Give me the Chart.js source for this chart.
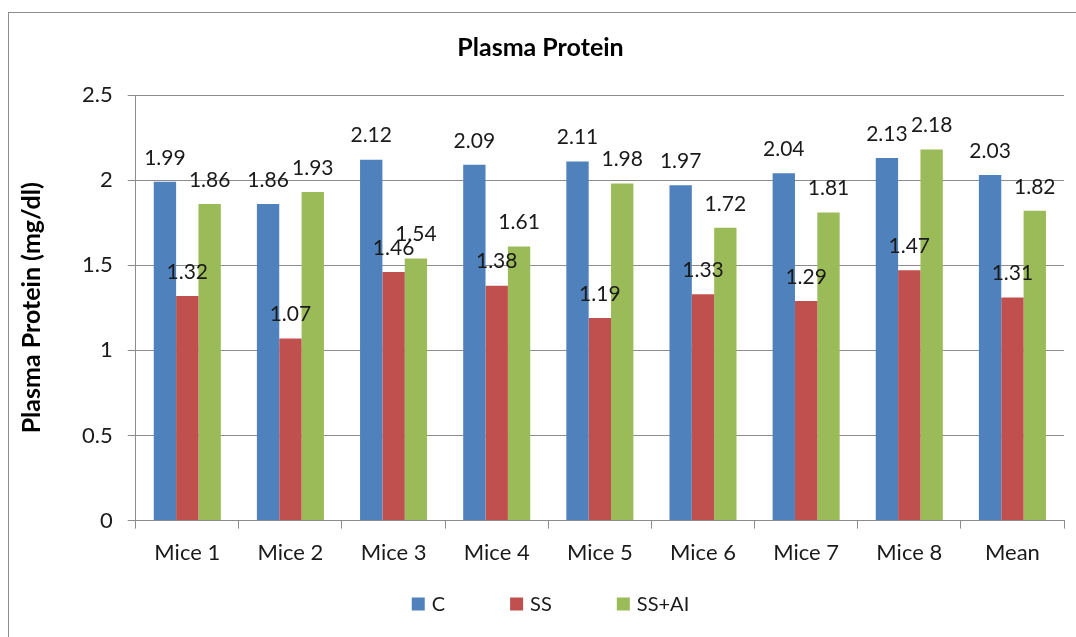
<!DOCTYPE html>
<html>
<head>
<meta charset="utf-8">
<script src="https://cdn.jsdelivr.net/npm/chart.js@4.4.1/dist/chart.umd.min.js"></script>
<style>
  body { margin: 0; background: #fff; overflow: hidden; width: 1076px; height: 637px; }
  #box { position: absolute; left: 8px; top: 12px; width: 1080px; height: 640px; border: 1px solid #8c8c8c; }
  #wrap { position: absolute; left: 0; top: 0; width: 1067px; height: 624px; }
</style>
</head>
<body>
<div id="box"><div id="wrap"><canvas id="myChart"></canvas></div></div>
<script>
const categories = ["Mice 1", "Mice 2", "Mice 3", "Mice 4", "Mice 5", "Mice 6", "Mice 7", "Mice 8", "Mean"];
const cValues = [1.99, 1.86, 2.12, 2.09, 2.11, 1.97, 2.04, 2.13, 2.03];
const ssValues = [1.32, 1.07, 1.46, 1.38, 1.19, 1.33, 1.29, 1.47, 1.31];
const ssaiValues = [1.86, 1.93, 1.54, 1.61, 1.98, 1.72, 1.81, 2.18, 1.82];
const yTicks = [0, 0.5, 1, 1.5, 2, 2.5];

const fontName = "Lato, 'Open Sans', sans-serif";

// value labels above each bar, like the excel data labels
const barLabels = {
  id: "barLabels",
  afterDatasetsDraw(chart) {
    const ctx = chart.ctx;
    ctx.save();
    ctx.font = "21px " + fontName;
    ctx.fillStyle = "#1a1a1a";
    ctx.textAlign = "center";
    ctx.textBaseline = "middle";
    chart.data.datasets.forEach((ds, i) => {
      chart.getDatasetMeta(i).data.forEach((bar, j) => {
        ctx.fillText(ds.data[j].toFixed(2), bar.x, bar.y - 24);
      });
    });
    ctx.restore();
  },
};

// legend drawn by hand so the gap between items can be wide without
// the builtin legend also growing tall
const wideLegend = {
  id: "wideLegend",
  afterDraw(chart) {
    const ctx = chart.ctx;
    const box = 13, gap = 7, spacing = 65;
    ctx.save();
    ctx.font = "20px " + fontName;
    const items = chart.data.datasets.map((ds) => ({
      text: ds.label,
      color: ds.backgroundColor,
      w: box + gap + ctx.measureText(ds.label).width,
    }));
    const total = items.reduce((s, it) => s + it.w, 0) + spacing * (items.length - 1);
    let x = chart.width / 2 + 8 - total / 2;
    const y = chart.height - 33;
    ctx.textBaseline = "middle";
    items.forEach((it) => {
      ctx.fillStyle = it.color;
      ctx.fillRect(x, y - box / 2, box, box);
      ctx.fillStyle = "#1a1a1a";
      ctx.fillText(it.text, x + box + gap, y + 1);
      x += it.w + spacing;
    });
    ctx.restore();
  },
};

new Chart(document.getElementById("myChart"), {
  type: "bar",
  data: {
    labels: categories,
    datasets: [
      { label: "C", data: cValues, backgroundColor: "#4F81BD" },
      { label: "SS", data: ssValues, backgroundColor: "#C0504D" },
      { label: "SS+AI", data: ssaiValues, backgroundColor: "#9BBB59" },
    ],
  },
  options: {
    responsive: true,
    maintainAspectRatio: false,
    animation: false,
    categoryPercentage: 0.65,
    barPercentage: 1,
    layout: { padding: { top: 0, right: 12, bottom: 60, left: 8 } },
    plugins: {
      title: {
        display: true,
        text: "Plasma Protein",
        font: { family: fontName, size: 25, weight: "bold" },
        color: "#000",
        padding: { top: 20, bottom: 32 },
      },
      legend: { display: false },
      tooltip: { enabled: false },
    },
    scales: {
      x: {
        grid: { display: true, drawOnChartArea: false, offset: true, color: "#8c8c8c", tickLength: 8 },
        border: { color: "#8c8c8c" },
        ticks: { font: { family: fontName, size: 22 }, color: "#1a1a1a", padding: 11 },
      },
      y: {
        min: 0,
        max: 2.5,
        afterBuildTicks(axis) {
          axis.ticks = yTicks.map((v) => ({ value: v }));
        },
        grid: { color: "#8c8c8c", tickLength: 8 },
        border: { color: "#8c8c8c" },
        ticks: {
          font: { family: fontName, size: 22 },
          color: "#1a1a1a",
          padding: 15,
          callback: (v) => String(v),
        },
        title: {
          display: true,
          text: "Plasma Protein (mg/dl)",
          font: { family: fontName, size: 25, weight: "bold" },
          color: "#000",
          padding: { top: 0, bottom: 20 },
        },
      },
    },
  },
  plugins: [barLabels, wideLegend],
});
</script>
</body>
</html>
